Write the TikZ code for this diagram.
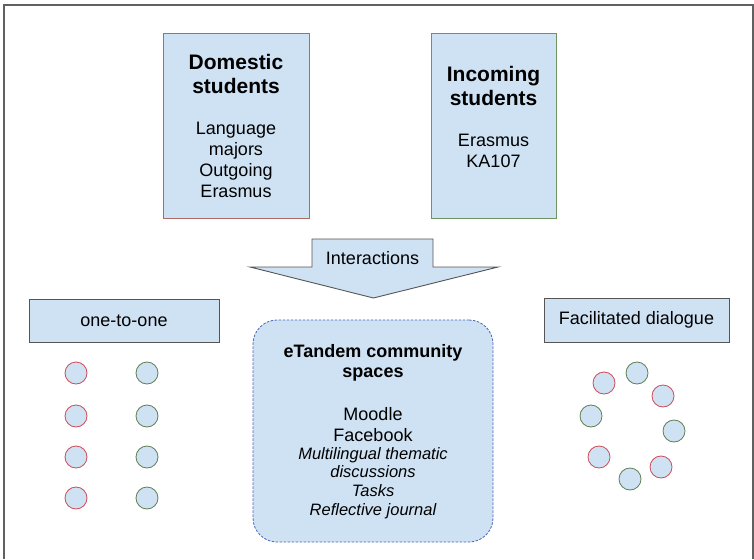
\documentclass[tikz,border=0pt]{standalone}
\usepackage{fontspec}
\setmainfont{Liberation Sans}
\definecolor{boxfill}{HTML}{CFE2F3}
\definecolor{framegray}{HTML}{606060}
\definecolor{edgegray}{HTML}{555555}
\definecolor{domred}{HTML}{B06A66}
\definecolor{incgreen}{HTML}{6E9462}
\definecolor{dotred}{HTML}{CC4B55}
\definecolor{dotgreen}{HTML}{5E7E52}
\definecolor{dashblue}{HTML}{4863B8}
\tikzset{
  groupbox/.style={draw, line width=0.9pt, fill=boxfill, rectangle, inner sep=0pt},
  modebox/.style={draw=edgegray, line width=0.9pt, fill=boxfill, rectangle, inner sep=0pt,
    font=\fontsize{18}{21}\selectfont},
  headtext/.style={align=center, inner sep=0pt, font=\bfseries\fontsize{21}{24}\selectfont},
  bodytext/.style={align=center, inner sep=0pt, font=\fontsize{18}{21}\selectfont},
  italtext/.style={align=center, inner sep=0pt, font=\itshape\fontsize{16.5}{18.7}\selectfont},
  person/.style={circle, draw, line width=0.8pt, fill=boxfill, minimum size=22pt, inner sep=0pt},
  domestic/.style={person, draw=dotred},
  incoming/.style={person, draw=dotgreen},
}
\begin{document}
\begin{tikzpicture}[x=1pt, y=-1pt]
\useasboundingbox (0,0) rectangle (754,559);
% outer frame (open at the bottom)
\draw[framegray, line width=2pt] (3.5,559) -- (3.5,5.5) -- (752.5,5.5) -- (752.5,559);

% student groups
\node[groupbox, draw=domred, minimum width=146pt, minimum height=185pt] (dom) at (236,125.5) {};
\node[headtext] (domhead) at (236,74) {Domestic\\students};
\node[bodytext] (dombody) at (236,160) {Language\\majors\\Outgoing\\Erasmus};

\node[groupbox, draw=incgreen, minimum width=125pt, minimum height=185pt] (inc) at (493.5,125.5) {};
\node[headtext] (inchead) at (493.5,86) {Incoming\\students};
\node[bodytext] (incbody) at (493.5,151) {Erasmus\\KA107};

% downward block arrow
\draw[edgegray, line width=0.9pt, fill=boxfill, line join=miter]
  (312,239) -- (433,239) -- (433,267) -- (498,267) -- (373.5,298) -- (250,267) -- (312,267) -- cycle;
\node[bodytext] (interact) at (372.5,258) {Interactions};

% interaction modes
\node[modebox, minimum width=190pt, minimum height=43pt] (one) at (124,320.5) {one-to-one};
\node[modebox, minimum width=185pt, minimum height=44pt] (facil) at (636.5,320) {Facilitated dialogue};

% community spaces
\node[draw=dashblue, line width=0.8pt, dash pattern=on 2.5pt off 1.5pt, fill=boxfill,
      rounded corners=24pt, minimum width=240pt, minimum height=222pt, inner sep=0pt]
      (comm) at (373,431) {};
\node[align=center, inner sep=0pt, font=\bfseries\fontsize{18}{20}\selectfont] (commhead) at (373,363)
  {eTandem community\\spaces};
\node[bodytext] (commtools) at (373,424.5) {Moodle\\Facebook};
\node[italtext] (commacts) at (373,483) {Multilingual thematic\\discussions\\Tasks\\Reflective journal};

% one-to-one pairs
\node[domestic] (d1) at (76,373) {};
\node[domestic] (d2) at (76,416) {};
\node[domestic] (d3) at (76,457) {};
\node[domestic] (d4) at (76,498) {};
\node[incoming] (i1) at (147,373) {};
\node[incoming] (i2) at (147,416) {};
\node[incoming] (i3) at (147,457) {};
\node[incoming] (i4) at (147,498) {};

% facilitated group circle
\node[domestic] (fd1) at (604,383) {};
\node[incoming] (fi1) at (637,373) {};
\node[domestic] (fd2) at (663,396) {};
\node[incoming] (fi2) at (591,416) {};
\node[incoming] (fi3) at (674,431) {};
\node[domestic] (fd3) at (599,457) {};
\node[domestic] (fd4) at (661,467) {};
\node[incoming] (fi4) at (630,479) {};
\end{tikzpicture}
\end{document}
